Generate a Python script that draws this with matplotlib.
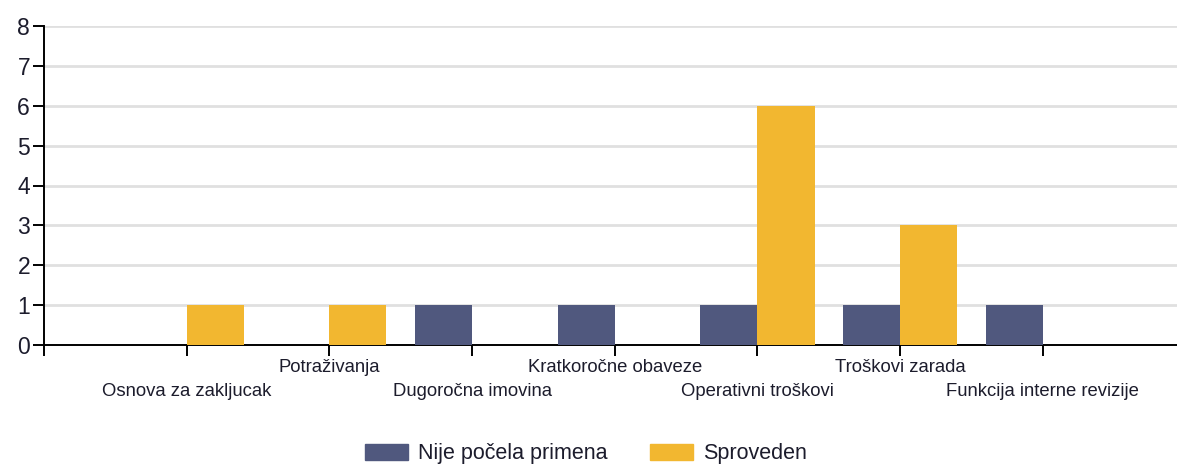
import matplotlib.pyplot as plt
import matplotlib.patches as mpatches
import numpy as np

plt.rcParams['font.family'] = ['Liberation Sans', 'DejaVu Sans']

categories = ['Osnova za zakljucak', 'Potraživanja', 'Dugoročna imovina',
              'Kratkoročne obaveze', 'Operativni troškovi', 'Troškovi zarada',
              'Funkcija interne revizije']
nije_pocela = [0, 0, 1, 1, 1, 1, 1]
sproveden = [1, 1, 0, 0, 6, 3, 0]
series_names = ['Nije počela primena', 'Sproveden']
colors = ['#50587E', '#F2B730']
text_color = '#1c1c2c'

fig = plt.figure(figsize=(11.77, 4.66), dpi=100)
ax = fig.add_axes([44/1177, 121/466, 1133/1177, 319/466])

x = np.arange(len(categories))
w = 0.4
ax.bar(x - w/2, nije_pocela, w, color=colors[0], zorder=3)
ax.bar(x + w/2, sproveden, w, color=colors[1], zorder=3)

ax.set_xlim(-1, 6.94)
ax.set_ylim(0, 8)
ax.set_yticks(range(0, 9))
ax.grid(axis='y', color='#E0E0E0', lw=2, zorder=0)
ax.set_axisbelow(True)

for s in ['top', 'right']:
    ax.spines[s].set_visible(False)
ax.spines['left'].set_linewidth(1.4)
ax.spines['bottom'].set_linewidth(1.4)
ax.tick_params(axis='y', length=8, width=1.4, labelsize=16.5, colors='black',
               labelcolor=text_color, pad=2)
ax.tick_params(axis='x', length=8, width=1.4, colors='black')

ax.set_xticks(range(-1, len(categories)))
ax.set_xticklabels([])
for i, lab in enumerate(categories):
    off = -38 if i % 2 == 0 else -14
    ax.annotate(lab, xy=(i, 0), xycoords=('data', 'axes fraction'),
                xytext=(0, off), textcoords='offset pixels',
                ha='center', va='top', fontsize=13.3, color=text_color)

handles = [mpatches.Patch(color=c, label=n) for c, n in zip(colors, series_names)]
fig.legend(handles=handles, loc='center', bbox_to_anchor=(586/1177, 1 - 454/466),
           ncol=2, frameon=False, fontsize=15.5, handlelength=2.0,
           handleheight=0.75, handletextpad=0.45, columnspacing=2.0,
           labelcolor=text_color)

fig.savefig('out.png', dpi=100)
